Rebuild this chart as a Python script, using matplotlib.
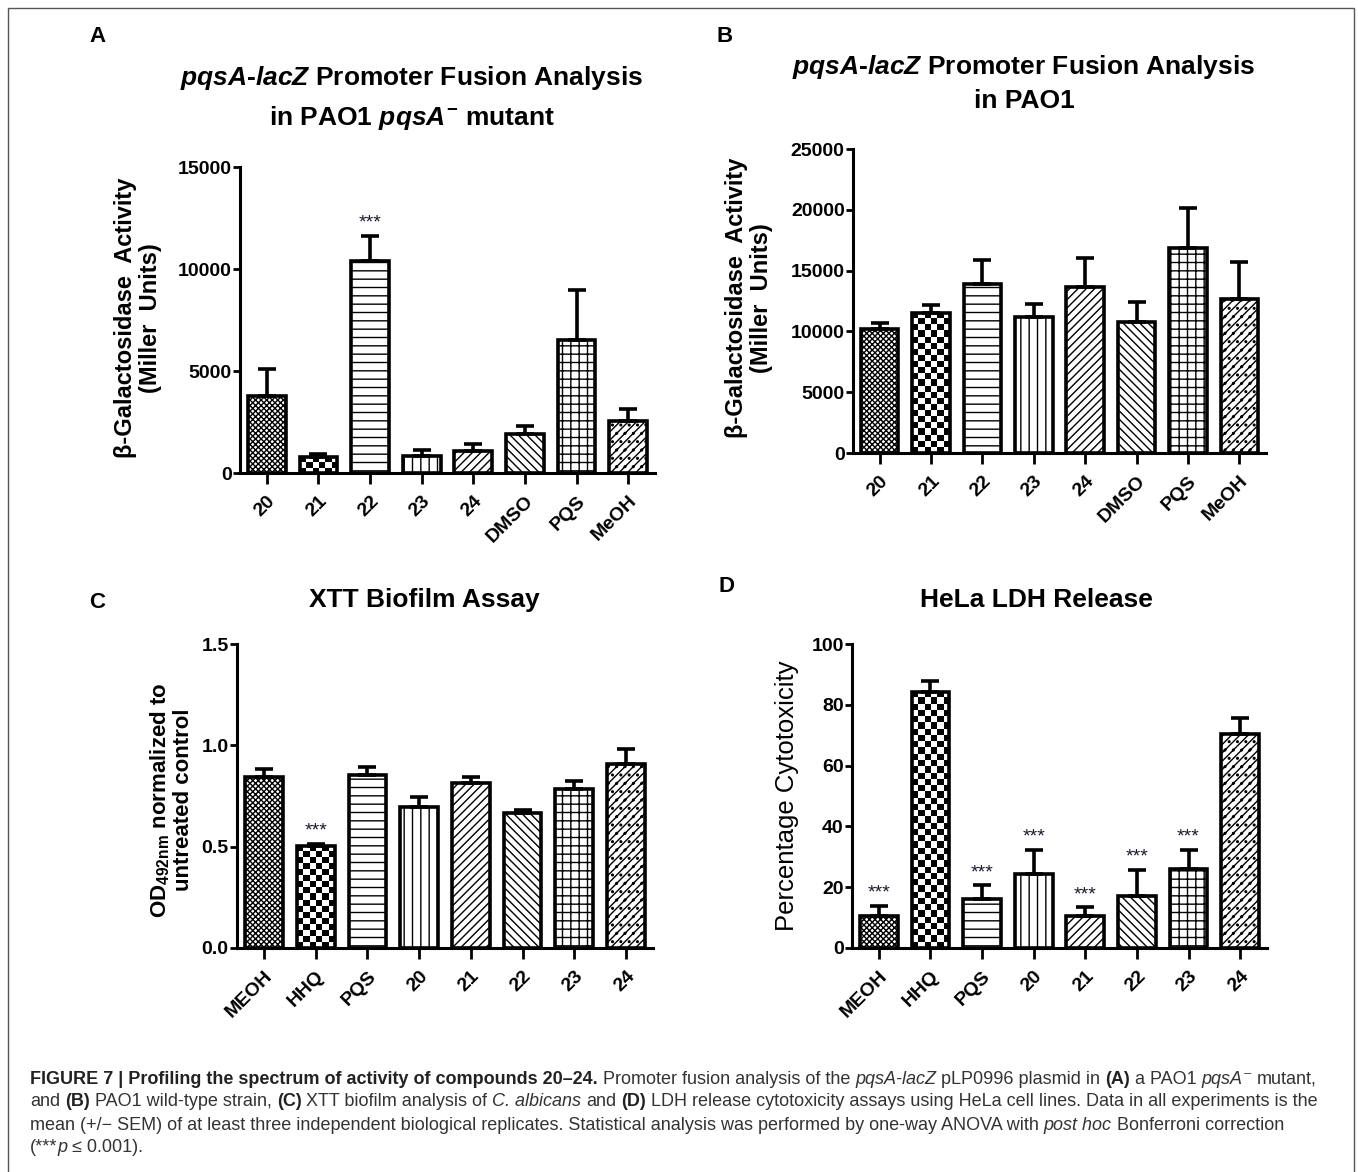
import matplotlib
matplotlib.use("Agg")
import matplotlib.pyplot as plt
import matplotlib.patches as mpatches
import numpy as np

plt.rcParams["font.family"] = ["Liberation Sans", "DejaVu Sans"]
plt.rcParams["mathtext.fontset"] = "custom"
plt.rcParams["mathtext.rm"] = "Liberation Sans:bold"
plt.rcParams["mathtext.bf"] = "Liberation Sans:bold"
plt.rcParams["mathtext.it"] = "Liberation Sans:italic:bold"
plt.rcParams["hatch.linewidth"] = 1.0

W, H = 1358, 1172

# ---- data ----
cats_ab = ["20", "21", "22", "23", "24", "DMSO", "PQS", "MeOH"]
a_mean = [3790, 780, 10400, 850, 1080, 1910, 6520, 2550]
a_sem = [1290, 150, 1230, 280, 340, 390, 2450, 600]
a_sig = [False, False, True, False, False, False, False, False]

b_mean = [10200, 11540, 13870, 11210, 13630, 10800, 16880, 12640]
b_sem = [520, 660, 1980, 1070, 2430, 1590, 3290, 3040]
b_sig = [False] * 8

cats_cd = ["MEOH", "HHQ", "PQS", "20", "21", "22", "23", "24"]
c_mean = [0.845, 0.505, 0.853, 0.696, 0.814, 0.668, 0.783, 0.908]
c_sem = [0.038, 0.008, 0.041, 0.047, 0.031, 0.013, 0.039, 0.075]
c_sig = [False, True, False, False, False, False, False, False]

d_mean = [10.5, 84.3, 16.1, 24.3, 10.6, 17.1, 26.1, 70.4]
d_sem = [3.4, 3.5, 4.5, 7.9, 2.8, 8.6, 6.1, 5.2]
d_sig = [True, False, True, True, True, True, True, False]

# fill style per bar position (same order in all four panels)
fills = ["xxxxxx", "checker", "--", "||", "////", "\\\\\\\\", "++", "////.."]

fig = plt.figure(figsize=(W / 100, H / 100), dpi=100)


def px_axes(l, t, r, b):
    return fig.add_axes([l / W, 1 - b / H, (r - l) / W, (b - t) / H])


def checker(ax, x, h, w, cell=6.2):
    p0 = ax.transData.transform((x - w / 2, 0))
    p1 = ax.transData.transform((x + w / 2, h))
    nx = max(1, int(round((p1[0] - p0[0]) / cell)))
    ny = max(1, int(round((p1[1] - p0[1]) / cell)))
    img = np.indices((ny, nx)).sum(axis=0) % 2
    ax.imshow(img, cmap="gray", extent=(x - w / 2, x + w / 2, 0, h),
              aspect="auto", interpolation="nearest", zorder=1, origin="lower")


def panel(ax, cats, mean, sem, sig, ymax, yticks, ticklabels):
    x = np.arange(len(cats))
    w = 0.73
    ax.set_xlim(-0.52, len(cats) - 0.48)
    ax.set_ylim(0, ymax)
    for i in x:
        f = fills[i]
        if f == "checker":
            checker(ax, i, mean[i], w)
            ax.bar(i, mean[i], w, facecolor="none", edgecolor="black",
                   linewidth=2.6, zorder=2, clip_on=False)
        else:
            ax.bar(i, mean[i], w, facecolor="white", edgecolor="black",
                   hatch=f, linewidth=2.6, zorder=2, clip_on=False)
    ax.errorbar(x, mean, yerr=[np.zeros(len(x)), sem], fmt="none",
                ecolor="black", elinewidth=2.6, capsize=6.5, capthick=2.6,
                zorder=3, clip_on=False)
    for i in x:
        if sig[i]:
            ax.annotate("***", (i, mean[i] + sem[i]), xytext=(0, 3),
                        textcoords="offset points", ha="center", va="bottom",
                        fontsize=14, color="#1a1a2e")
    for s in ["top", "right"]:
        ax.spines[s].set_visible(False)
    for s in ["left", "bottom"]:
        ax.spines[s].set_linewidth(2.2)
    ax.set_yticks(yticks)
    ax.set_yticklabels(ticklabels, fontsize=14, fontweight="bold")
    ax.set_xticks(x)
    ax.set_xticklabels(cats, fontsize=14, fontweight="bold", rotation=45,
                       ha="right", rotation_mode="anchor")
    ax.tick_params(axis="y", length=5, width=2, pad=1)
    ax.tick_params(axis="x", length=8, width=2, pad=6)


axA = px_axes(240, 167, 655, 473)
panel(axA, cats_ab, a_mean, a_sem, a_sig, 15000, [0, 5000, 10000, 15000],
      ["0", "5000", "10000", "15000"])
axB = px_axes(853, 149, 1266, 453)
panel(axB, cats_ab, b_mean, b_sem, b_sig, 25000,
      [0, 5000, 10000, 15000, 20000, 25000],
      ["0", "5000", "10000", "15000", "20000", "25000"])
axC = px_axes(237, 644, 653, 948)
panel(axC, cats_cd, c_mean, c_sem, c_sig, 1.5, [0, 0.5, 1.0, 1.5],
      ["0.0", "0.5", "1.0", "1.5"])
axD = px_axes(852, 644, 1267, 948)
panel(axD, cats_cd, d_mean, d_sem, d_sig, 100, [0, 20, 40, 60, 80, 100],
      ["0", "20", "40", "60", "80", "100"])


def ftext(x, y, s, **kw):
    return fig.text(x / W, 1 - y / H, s, **kw)


# panel letters
for lab, (x, y) in zip("ABCD", [(97, 36), (725, 36), (97, 602), (726, 586)]):
    ftext(x, y, lab, fontsize=16, fontweight="bold", ha="center", va="center")

# titles
tkw = dict(fontsize=19, fontweight="bold", ha="center", va="center")
ftext(412, 78, r"$\it{pqsA}$-$\it{lacZ}$ Promoter Fusion Analysis", **tkw)
ftext(412, 118, r"in PAO1 $\it{pqsA}^{-}$ mutant", **tkw)
ftext(1024, 67, r"$\it{pqsA}$-$\it{lacZ}$ Promoter Fusion Analysis", **tkw)
ftext(1024, 101, "in PAO1", **tkw)
ftext(424, 600, "XTT Biofilm Assay", **tkw)
ftext(1036, 600, "HeLa LDH Release", **tkw)

# y labels
ylkw = dict(fontweight="bold", rotation=90, ha="center", va="center",
            multialignment="center")
ftext(138, 318, "β-Galactosidase  Activity\n(Miller  Units)", fontsize=17,
      linespacing=1.1, **ylkw)
ftext(749, 298, "β-Galactosidase  Activity\n(Miller  Units)", fontsize=17,
      linespacing=1.1, **ylkw)
ftext(171, 800, r"OD$_{\mathrm{492nm}}$ normalized to" + "\nuntreated control",
      fontsize=16, linespacing=1.05, **ylkw)
ftext(787, 796, "Percentage Cytotoxicity", fontsize=18.5, rotation=90,
      ha="center", va="center")

# border
fig.add_artist(mpatches.Rectangle((8 / W, -0.05), (1354 - 8) / W, 1.05 - 8 / H,
                                  transform=fig.transFigure, fill=False,
                                  edgecolor="#555555", linewidth=1.0))

# caption
cap_size = 13.0
styles = {
    "n": dict(color="#333333"),
    "b": dict(color="#222222", fontweight="bold"),
    "i": dict(color="#333333", fontstyle="italic"),
}
renderer = fig.canvas.get_renderer()


def width_of(s, st):
    t = fig.text(0, 0, s, fontsize=cap_size, **styles[st])
    wd = t.get_window_extent(renderer=renderer).width
    t.remove()
    return wd


space_w = {k: width_of("x x", k) - width_of("xx", k) for k in styles}

lines = [
    [("FIGURE 7 | Profiling the spectrum of activity of compounds 20–24.", "b"),
     (" Promoter fusion analysis of the ", "n"), ("pqsA-lacZ", "i"),
     (" pLP0996 plasmid in ", "n"), ("(A)", "b"), (" a PAO1 ", "n"),
     ("pqsA", "i"), ("⁻", "n"), (" mutant,", "n")],
    [("and ", "n"), ("(B)", "b"), (" PAO1 wild-type strain, ", "n"),
     ("(C)", "b"), (" XTT biofilm analysis of ", "n"), ("C. albicans", "i"),
     (" and ", "n"), ("(D)", "b"),
     (" LDH release cytotoxicity assays using HeLa cell lines. Data in all experiments is the", "n")],
    [("mean (+/− SEM) of at least three independent biological replicates. "
      "Statistical analysis was performed by one-way ANOVA with ", "n"),
     ("post hoc", "i"), (" Bonferroni correction", "n")],
    [("(***", "n"), ("p", "i"), (" ≤ 0.001).", "n")],
]
for k, runs in enumerate(lines):
    y = 1079 + 23 * k
    x = 30.0
    for s, st in runs:
        if s.startswith(" "):
            x += space_w[st]
        core = s.strip()
        t = ftext(x, y, core, fontsize=cap_size, ha="left", va="center",
                  **styles[st])
        x += t.get_window_extent(renderer=renderer).width
        if s.endswith(" "):
            x += space_w[st]

fig.savefig("out.png", dpi=100)
